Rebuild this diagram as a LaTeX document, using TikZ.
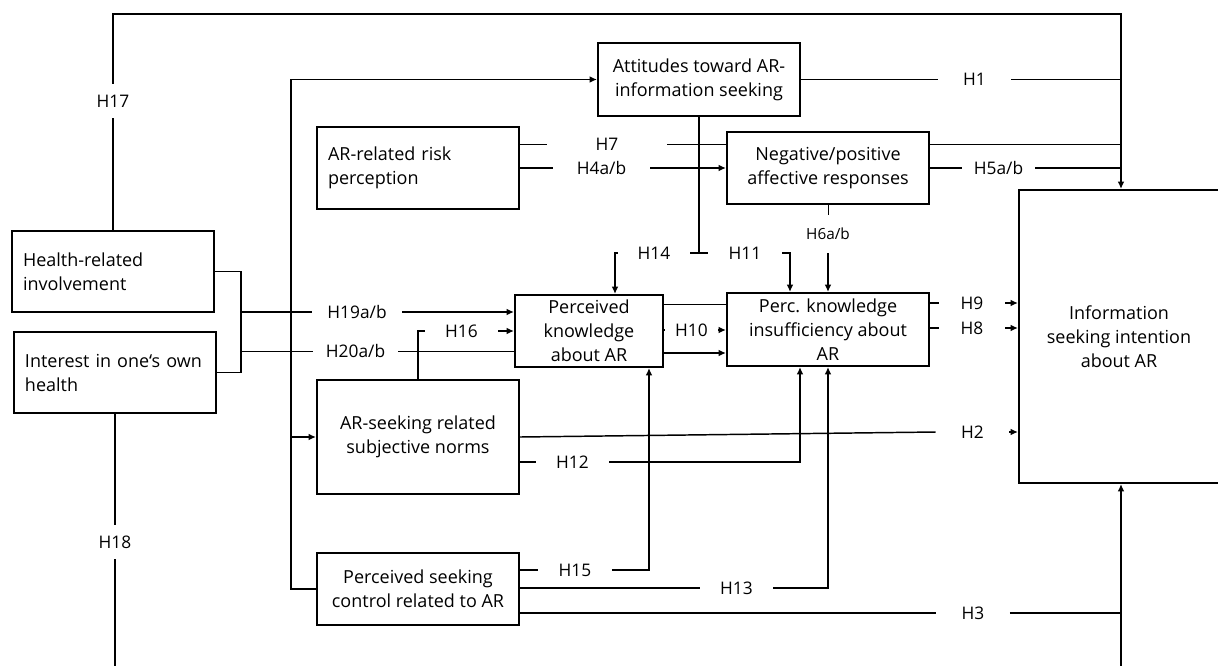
\documentclass[tikz,border=0pt]{standalone}
\usepackage{fontspec}
\setmainfont{Open Sans}
\usetikzlibrary{arrows.meta,calc}

\begin{document}
\begin{tikzpicture}[x=0.75pt,y=-0.75pt,>={Latex[length=5.5pt,width=5pt]}]
\tikzstyle{box}=[draw,line width=1.5pt,fill=white,align=center,inner sep=0pt,minimum width=151.5pt,font=\fontsize{13.5}{18}\selectfont]
\tikzstyle{lbox}=[box,align=left,text width=135pt,inner xsep=8pt]
\tikzstyle{hyp}=[inner sep=0pt,minimum width=54.75pt,minimum height=12pt,font=\fontsize{13}{15}\selectfont]
\tikzstyle{conn}=[line width=1.1pt]
\tikzstyle{faint}=[line width=0.75pt]
\clip (0,0) rectangle (1218,665);
\node[lbox,minimum height=60.75pt] (hri) at (113,271.5) {Health-related\\involvement};
\node[lbox,minimum height=60.75pt] (ioh) at (115,372.5) {Interest in one‘s own\\health};
\node[box,minimum height=54.75pt] (att) at (699,79.5) {Attitudes toward AR-\\information seeking};
\node[lbox,minimum height=61.5pt] (risk) at (418,168) {AR-related risk\\perception};
\node[box,minimum height=54pt] (neg) at (828,168) {Negative/positive\\affective responses};
\node[box,minimum width=111pt,minimum height=54pt] (pk) at (589,331) {Perceived\\knowledge\\about AR};
\node[box,minimum height=54.75pt] (pki) at (828,329.5) {Perc. knowledge\\insufficiency about\\AR};
\node[box,minimum height=85.5pt] (norms) at (418,437) {AR-seeking related\\subjective norms};
\node[box,minimum height=54pt] (ctrl) at (418,589) {Perceived seeking\\control related to AR};
\node[box,minimum width=150pt,minimum height=219.75pt] (info) at (1119,336.5) {Information\\seeking intention\\about AR};
\node[hyp,minimum height=25.5pt] (h17) at (113,101) {H17};
\node[hyp,minimum height=25.5pt] (h18) at (115,542) {H18};
\node[hyp,minimum width=67.5pt] (h19) at (357,312) {H19a/b};
\node[hyp,minimum width=63.75pt] (h20) at (355.5,351) {H20a/b};
\node[hyp] (h16) at (461.5,331) {H16};
\node[hyp,minimum width=90pt] (h7) at (607,144) {H7};
\node[hyp,minimum width=72.75pt] (h4) at (601.5,168) {H4a/b};
\node[hyp] (h1) at (974.5,79.5) {H1};
\node[hyp] (h5) at (998.5,168) {H5a/b};
\node[hyp,minimum height=28.5pt,font=\fontsize{11.5}{13}\selectfont] (h6) at (828,234) {H6a/b};
\node[hyp,minimum width=54pt] (h14) at (654,253) {H14};
\node[hyp,minimum width=55.5pt] (h11) at (745,253) {H11};
\node[hyp,minimum width=39.75pt] (h10) at (691.5,330) {H10};
\node[hyp,minimum width=49.5pt] (h9) at (972,303) {H9};
\node[hyp,minimum width=49.5pt] (h8) at (972,328) {H8};
\node[hyp] (h2) at (972.5,432) {H2};
\node[hyp] (h12) at (572.5,462) {H12};
\node[hyp] (h15) at (575,570) {H15};
\node[hyp] (h13) at (736.5,588) {H13};
\node[hyp] (h3) at (973,613) {H3};
\coordinate (tr) at (1121,14);
\coordinate (bl) at (115,680);
\coordinate (br) at (1121,680);
\coordinate (lv) at (291,79.5);
\coordinate (j19) at (241,312);
\coordinate (j20) at (241,351);
\coordinate (k14) at (615,253);
\coordinate (k11) at (790,253);
\coordinate (k12) at (800,462);
\coordinate (k15) at (649,570);
\draw[conn] (hri.north) -- (h17.south);
\draw[conn,->] (h17.north) |- (tr) -- (tr |- info.north);
\draw[conn] (ioh.south) -- (h18.north);
\draw[conn] (h18.south) -- (bl);
\draw[conn,->] (br) -- (br |- info.south);
\draw[conn] (hri.east) -| (j20 |- ioh.east) -- (ioh.east);
\draw[conn] (j19) -- (h19.west);
\draw[conn,->] (h19.east) -- (h19 -| pk.west);
\draw[faint] (j20) -- (h20.west);
\draw[faint] (h20.east) -- (h20 -| pk.west);
\draw[conn] (norms.north) |- (h16.west);
\draw[conn,->] (h16.east) -- (h16 -| pk.west);
\draw[conn,->] (ctrl.west) -| (lv) -- (att.west);
\draw[conn,->] (lv |- norms.west) -- (norms.west);
\draw[conn] (att.east) -- (h1.west);
\draw[conn] (h1.east) -- (h1 -| tr);
\draw[conn] (att.south) -- (att.south |- h14);
\draw[conn] (h14.east) -- (h11.west);
\draw[conn,->] (h14.west) -- (k14) -- (k14 |- pk.north);
\draw[conn,->] (h11.east) -- (k11) -- (k11 |- pki.north);
\draw[faint] (risk.east |- h7) -- (h7.west);
\draw[faint] (h7.east) -- (h7 -| neg.west);
\draw[faint] (h7 -| neg.east) -- (h7 -| tr);
\draw[conn] (risk.east) -- (h4.west);
\draw[conn,->] (h4.east) -- (h4 -| neg.west);
\draw[conn] (neg.east) -- (h5.west);
\draw[conn] (h5.east) -- (h5 -| tr);
\draw[faint] (neg.south) -- (h6.north);
\draw[conn,->] (h6.south) -- (pki.north);
\draw[faint] ([yshift=20.25pt]pk.east) -- ([yshift=20.25pt]pk.east -| pki.west);
\draw[conn] (pk.east |- h10) -- (h10.west);
\draw[conn,->] (h10.east) -- (h10 -| pki.west);
\draw[conn,->] ([yshift=-16.5pt]pk.east) -- ([yshift=-16.5pt]pk.east -| pki.west);
\draw[conn] (pki.east |- h9) -- (h9.west);
\draw[conn,->] (h9.east) -- (h9 -| info.west);
\draw[conn] (pki.east |- h8) -- (h8.west);
\draw[conn,->] (h8.east) -- (h8 -| info.west);
\draw[conn] (norms.east) -- (h2.west);
\draw[conn,->] (h2.east) -- (h2 -| info.west);
\draw[conn] (norms.east |- h12) -- (h12.west);
\draw[conn,->] (h12.east) -- (k12) -- (k12 |- pki.south);
\draw[conn] (ctrl.east |- h15) -- (h15.west);
\draw[conn,->] (h15.east) -- (k15) -- (k15 |- pk.south);
\draw[conn] (ctrl.east |- h13) -- (h13.west);
\draw[conn,->] (h13.east) -| (pki.south);
\draw[conn] (ctrl.east |- h3) -- (h3.west);
\draw[conn] (h3.east) -- (h3 -| br);
\end{tikzpicture}
\end{document}
